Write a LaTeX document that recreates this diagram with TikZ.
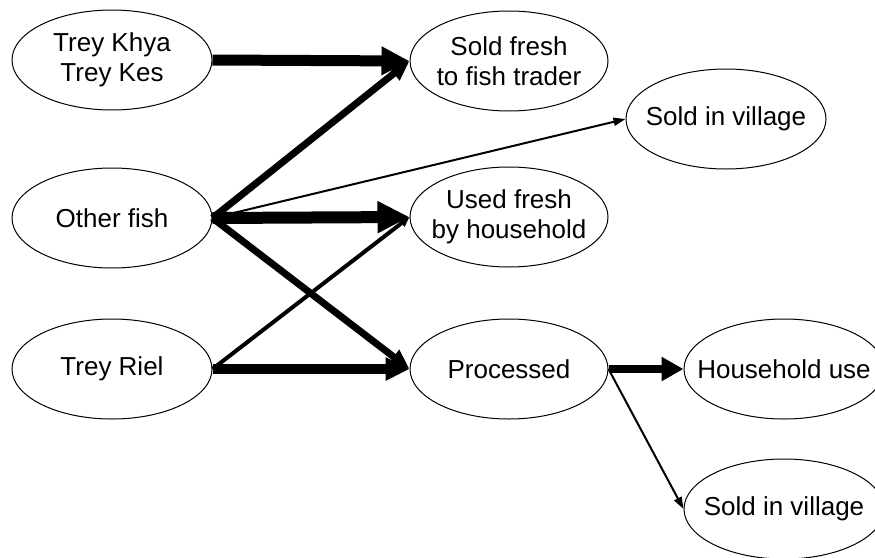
\documentclass[tikz,border=0pt]{standalone}
\usepackage{fontspec}
\setmainfont{Liberation Sans}
\usetikzlibrary{shapes.geometric,arrows.meta}
\tikzset{
  ovaltext/.style={align=center, inner sep=0pt, font=\fontsize{26}{30}\selectfont},
  oval/.style={draw=black, line width=1pt, ellipse, minimum width=200pt, minimum height=100pt, inner sep=0pt, label={[ovaltext]center:#1}},
  thickflow/.style={line width=11pt, -{Triangle[length=28pt,width=27pt]}},
  medflow/.style={line width=7pt, -{Triangle[length=20pt,width=17pt]}},
  lightflow/.style={line width=4pt, -{Triangle[length=10pt,width=9pt]}},
  thinflow/.style={line width=2pt, -{Triangle[length=12pt,width=8pt]}}
}
\begin{document}
\begin{tikzpicture}[x=1pt,y=-1pt]
\useasboundingbox (0,0) rectangle (875,557);
\node[oval={Trey Khya\\Trey Kes}] (tk) at (112,60) {};
\node[oval={Other fish}] (of) at (112,218) {};
\node[oval={Trey Riel}] (tr) at (112,369) {};
\node[oval={Sold fresh\\to fish trader}, minimum width=198pt] (sf) at (509,61) {};
\node[oval={Sold in village}] (sv1) at (726,119) {};
\node[oval={Used fresh\\by household}, minimum width=198pt] (uf) at (509,217) {};
\node[oval={Processed}, minimum width=198pt] (pr) at (509,369) {};
\node[oval={Household use}] (hu) at (784,369) {};
\node[oval={Sold in village}] (sv2) at (784,509) {};

\draw[thickflow] (tk.east) -- (sf.west);
\draw[medflow] (of.east) -- (sf.west);
\draw[thinflow] (of.east) -- (sv1.west);
\draw[line width=12pt, -{Triangle[length=32pt,width=30pt]}] (of.east) -- (uf.west);
\draw[medflow] (of.east) -- (pr.west);
\draw[lightflow] (tr.east) -- (uf.west);
\draw[line width=10pt, -{Triangle[length=24pt,width=22pt]}] (tr.east) -- (pr.west);
\draw[line width=8pt, -{Triangle[length=22pt,width=23pt]}] (pr.east) -- (hu.west);
\draw[thinflow] (pr.east) -- (sv2.west);
\end{tikzpicture}
\end{document}
